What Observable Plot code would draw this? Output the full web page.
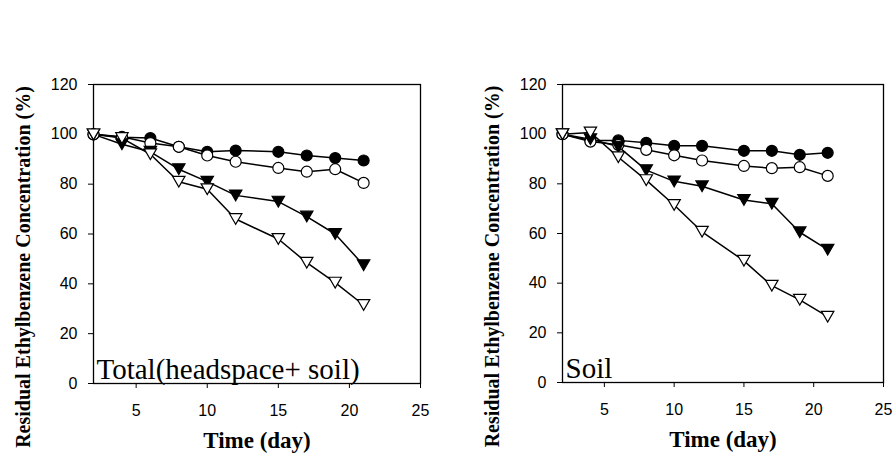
<!DOCTYPE html>
<html>
<head>
<meta charset="utf-8">
<script src="https://cdn.jsdelivr.net/npm/d3@7"></script>
<script src="https://cdn.jsdelivr.net/npm/@observablehq/plot@0.6"></script>
<style>
  html, body { margin: 0; padding: 0; background: #fff; }
  #wrap { display: flex; width: 896px; height: 468px; }
</style>
</head>
<body>
<div id="wrap"></div>
<script>
// ---- data ----
const days = [2, 4, 6, 8, 10, 12, 15, 17, 19, 21];
const xTicks = [5, 10, 15, 20, 25];
const yTicks = [0, 20, 40, 60, 80, 100, 120];

const totalFilledCircle = [100, 98.8, 98.5, 95, 93, 93.5, 93, 91.5, 90.5, 89.5];
const totalOpenCircle   = [100, 99, 96.5, 95, 91.5, 89, 86.5, 85, 86, 80.5];
const totalFilledTri    = [100, 96, 93, 86, 81, 75.5, 73, 67, 60, 47.5];
const totalOpenTri      = [100, 98.5, 92, 81, 78, 66, 58, 48.5, 40.5, 31.5];

const soilFilledCircle = [100, 97.5, 97.5, 96.5, 95.3, 95.3, 93.3, 93.3, 91.7, 92.5];
const soilOpenCircle   = [100, 97, 95.7, 93.7, 91.5, 89.4, 87.2, 86.3, 86.7, 83.2];
const soilFilledTri    = [100, 98, 95, 85.5, 81, 79, 73.5, 72, 60.5, 53.5];
const soilOpenTri      = [100, 100.7, 90.7, 81.5, 71.5, 60.7, 49, 39, 33.3, 26.5];

const yLabel = "Residual Ethylbenzene Concentration (%)";
const xLabel = "Time (day)";
const panelLabels = ["Total(headspace+ soil)", "Soil"];

// ---- symbols ----
const triangleDown = {
  draw(ctx, size) {
    const r = Math.sqrt(size / Math.PI);
    const a = 2.25 * r, h = a * 0.866;
    ctx.moveTo(-a / 2, -h / 2);
    ctx.lineTo(a / 2, -h / 2);
    ctx.lineTo(0, h / 2);
    ctx.closePath();
  }
};

function series(values, name) {
  return days.map((d, i) => ({day: d, value: values[i], series: name}));
}

function panel(sets, label, margins) {
  const specs = [
    {data: series(sets[0], "fc"), symbol: "circle", fill: "black"},
    {data: series(sets[1], "oc"), symbol: "circle", fill: "white"},
    {data: series(sets[2], "ft"), symbol: triangleDown, fill: "black"},
    {data: series(sets[3], "ot"), symbol: triangleDown, fill: "white"}
  ];
  const serif = "'Liberation Serif', 'Times New Roman', serif";
  return Plot.plot({
    width: 448,
    height: 468,
    marginTop: margins.top,
    marginBottom: margins.bottom,
    marginLeft: margins.left,
    marginRight: margins.right,
    style: {fontFamily: "'Liberation Sans', Arial, sans-serif", fontSize: "16px", background: "white", color: "black"},
    x: {domain: [2, 25]},
    y: {domain: [0, 120]},
    marks: [
      Plot.axisY({ticks: yTicks, tickSize: 5, tickPadding: 11, label: null, fontSize: 16}),
      Plot.axisX({ticks: xTicks, tickSize: 5, tickPadding: 16, label: null, fontSize: 16}),
      Plot.frame({stroke: "black", strokeWidth: 1.3}),
      ...specs.map(s => Plot.line(s.data, {x: "day", y: "value", stroke: "black", strokeWidth: 1.5})),
      ...specs.map(s => Plot.dot(s.data, {x: "day", y: "value", symbol: () => s.symbol, r: 5.5, fill: s.fill, stroke: "black", strokeWidth: 1.2})),
      Plot.text([label], {frameAnchor: "bottom-left", text: d => d, dx: 3, dy: -5, textAnchor: "start", lineAnchor: "bottom", fontSize: 29, fontFamily: serif}),
      Plot.text([yLabel], {frameAnchor: "left", text: d => d, rotate: -90, dx: -70, dy: 33, textAnchor: "middle", lineAnchor: "middle", fontWeight: "bold", fontSize: 20, fontFamily: serif}),
      Plot.text([xLabel], {frameAnchor: "bottom", text: d => d, dy: 64, textAnchor: "middle", lineAnchor: "bottom", fontWeight: "bold", fontSize: 23, fontFamily: serif})
    ]
  });
}

const wrap = document.getElementById("wrap");
wrap.append(panel([totalFilledCircle, totalOpenCircle, totalFilledTri, totalOpenTri], panelLabels[0], {top: 84, bottom: 85, left: 93, right: 28}));
wrap.append(panel([soilFilledCircle, soilOpenCircle, soilFilledTri, soilOpenTri], panelLabels[1], {top: 84, bottom: 86, left: 114, right: 13}));
</script>
</body>
</html>
